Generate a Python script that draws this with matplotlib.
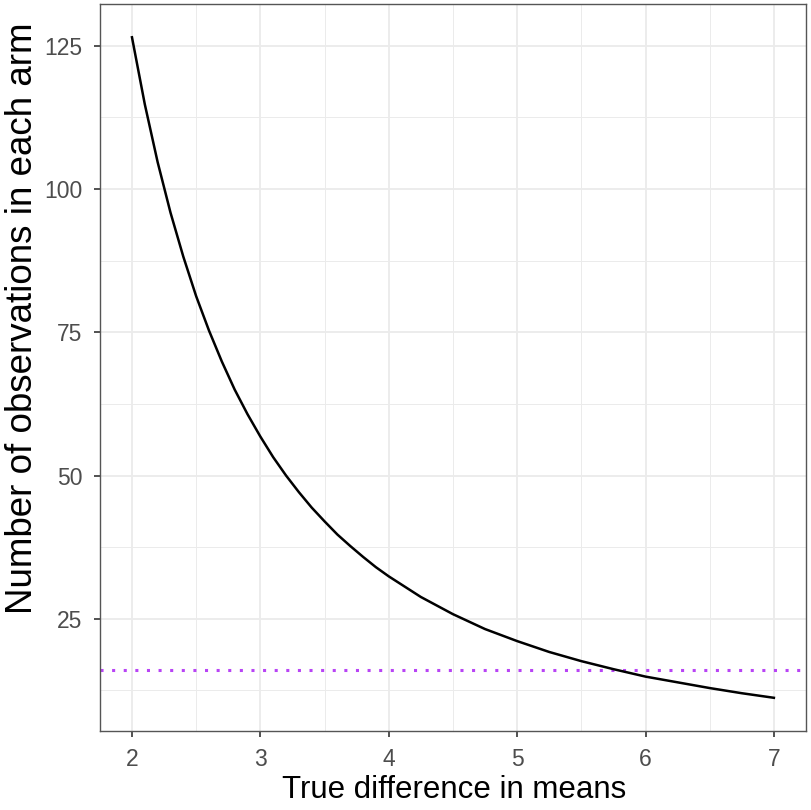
import matplotlib
matplotlib.use("Agg")
import matplotlib.pyplot as plt
from matplotlib.ticker import MultipleLocator

# values
diff_means = [2.0, 2.1, 2.2, 2.3, 2.4, 2.5, 2.6, 2.7, 2.8, 2.9, 3.0,
              3.1, 3.2, 3.3, 3.4, 3.5, 3.6, 3.7, 3.8, 3.9, 4.0,
              4.25, 4.5, 4.75, 5.0, 5.25, 5.5, 5.75, 6.0, 6.25, 6.5, 6.75, 7.0]
n_per_arm = [126.5, 114.8, 104.7, 95.9, 88.2, 81.3, 75.3, 69.9, 65.0, 60.7, 56.8,
             53.2, 50.0, 47.1, 44.4, 42.0, 39.7, 37.7, 35.8, 34.0, 32.4,
             28.8, 25.8, 23.2, 21.1, 19.2, 17.6, 16.2, 14.9, 13.9, 12.9, 12.0, 11.2]
ref_n = 16
x_ticks = [2, 3, 4, 5, 6, 7]
y_ticks = [25, 50, 75, 100, 125]

plt.rcParams['font.family'] = ['Liberation Sans', 'DejaVu Sans']

fig = plt.figure(figsize=(8.12, 8.10), dpi=100)
ax = fig.add_axes([0.123, 0.0975, 0.8696, 0.8975])

ax.plot(diff_means, n_per_arm, color='black', lw=1.8, zorder=3,
        solid_joinstyle='round')
ax.axhline(ref_n, color='#B844F5', lw=2.2, linestyle=(0, (1, 2.8)), zorder=2)

ax.set_xlim(1.75, 7.25)
ax.set_ylim(5.4, 132.3)
ax.set_xticks(x_ticks)
ax.set_yticks(y_ticks)
ax.xaxis.set_minor_locator(MultipleLocator(0.5))
ax.yaxis.set_minor_locator(MultipleLocator(12.5))

ax.grid(which='major', color='#EBEBEB', lw=1.3)
ax.grid(which='minor', color='#EBEBEB', lw=0.7)
ax.set_axisbelow(True)

for s in ax.spines.values():
    s.set_color('#555555')
    s.set_linewidth(1.0)

ax.tick_params(which='major', length=4.5, width=1.2, color='#333333',
               labelsize=16.5, labelcolor='#4D4D4D', pad=8)
ax.tick_params(which='minor', length=0)

ax.set_xlabel('True difference in means', fontsize=22.5)
ax.set_ylabel('Number of observations in each arm', fontsize=26.5)
ax.xaxis.label.set_va('center')
ax.yaxis.label.set_va('center')
ax.xaxis.set_label_coords(0.501, -0.081)
ax.yaxis.set_label_coords(-0.110, 0.568)

fig.savefig('out.png', dpi=100)
